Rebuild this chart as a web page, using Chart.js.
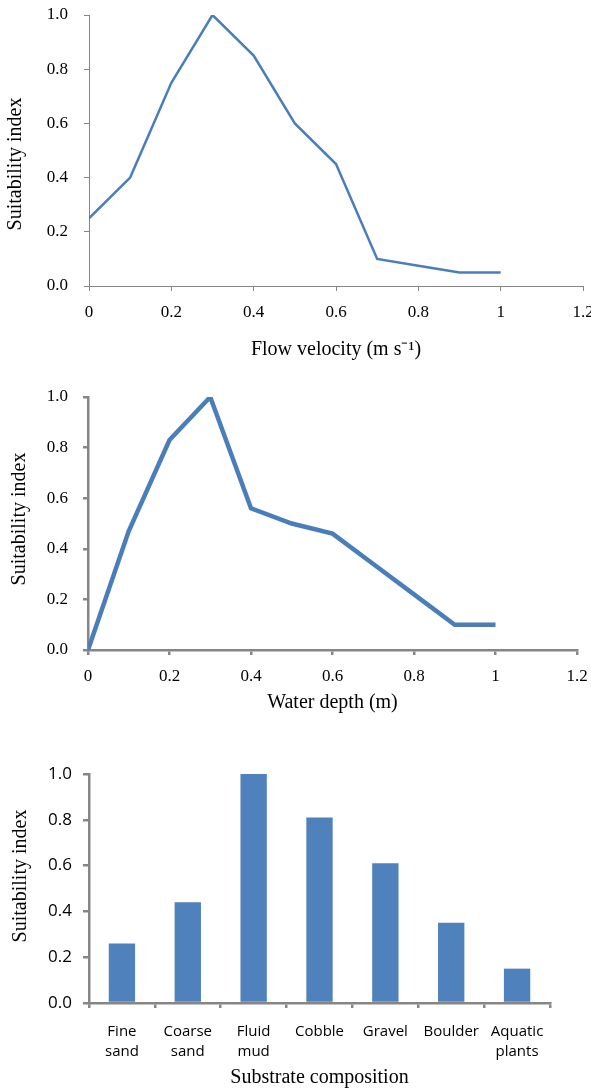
<!DOCTYPE html>
<html><head><meta charset="utf-8">
<script src="https://cdn.jsdelivr.net/npm/chart.js@4.4.1/dist/chart.umd.min.js"></script>
<style>
html,body{margin:0;padding:0;background:#fff;width:591px;height:1090px;overflow:hidden;position:relative}
canvas{position:absolute;left:0}
</style></head><body>
<canvas id="c1" width="591" height="362" style="top:0px"></canvas>
<canvas id="c2" width="591" height="355" style="top:360px"></canvas>
<canvas id="c3" width="591" height="375" style="top:715px"></canvas>
<script>
// ---- data ----
const velocityX = [0, 0.1, 0.2, 0.3, 0.4, 0.5, 0.6, 0.7, 0.8, 0.9, 1.0];
const velocitySI = [0.25, 0.40, 0.75, 1.00, 0.85, 0.60, 0.45, 0.10, 0.075, 0.05, 0.05];
const depthX = [0, 0.1, 0.2, 0.3, 0.4, 0.5, 0.6, 0.7, 0.8, 0.9, 1.0];
const depthSI = [0.00, 0.47, 0.83, 1.00, 0.56, 0.50, 0.46, 0.34, 0.22, 0.10, 0.10];
const substrateLabels = [["Fine", "sand"], ["Coarse", "sand"], ["Fluid", "mud"], "Cobble", "Gravel", "Boulder", ["Aquatic", "plants"]];
const substrateSI = [0.26, 0.44, 1.00, 0.81, 0.61, 0.35, 0.15];
const yTitleText = "Suitability index";
const velocityTitle = "Flow velocity (m s\u207B\u00B9)";
const depthTitle = "Water depth (m)";
const substrateTitle = "Substrate composition";

const SERIF = "'Liberation Serif', 'Times New Roman', serif";
const SANS = "'Open Sans', 'Liberation Sans', sans-serif";
const AXIS = '#868686';
const LINE = '#4a7ebb';
const BAR = '#4f81bd';

const yTitlePlugin = {
  id: 'yTitle',
  afterDraw(chart, args, o) {
    if (!o || !o.text) return;
    const ctx = chart.ctx;
    ctx.save();
    ctx.translate(o.x, o.y);
    ctx.rotate(-Math.PI / 2);
    ctx.font = o.font;
    ctx.fillStyle = '#000';
    ctx.textAlign = 'center';
    ctx.textBaseline = 'middle';
    ctx.fillText(o.text, 0, 0);
    ctx.restore();
  }
};

function fmtX(v) { return String(Number(v.toFixed(1))); }

function lineChart(id, xs, ys, c) {
  return new Chart(document.getElementById(id), {
    type: 'line',
    data: {
      datasets: [{
        data: xs.map((x, i) => ({ x: x, y: ys[i] })),
        borderColor: LINE, borderWidth: c.lw, pointRadius: 0, tension: 0, fill: false
      }]
    },
    plugins: [yTitlePlugin],
    options: {
      responsive: false, animation: false,
      layout: { autoPadding: false, padding: { left: 0, top: c.top, right: c.right, bottom: 0 } },
      plugins: {
        legend: { display: false }, tooltip: { enabled: false },
        yTitle: { text: yTitleText, x: c.tx, y: c.ty, font: '20px ' + SERIF }
      },
      scales: {
        x: {
          type: 'linear', min: 0, max: 1.2,
          ticks: { stepSize: 0.2, callback: fmtX, color: '#000', padding: 11, maxRotation: 0,
                   font: { family: SERIF, size: 17 } },
          grid: { drawOnChartArea: false, drawTicks: true, tickLength: 5, color: AXIS, lineWidth: c.aw },
          border: { display: true, color: AXIS, width: c.aw },
          title: { display: true, text: c.xTitle, color: '#000', padding: { top: 0, bottom: 0 },
                   font: { family: SERIF, size: 20 } },
          afterFit(s) { s.height = c.xh; s.paddingLeft = 0; s.paddingRight = 0; }
        },
        y: {
          min: 0, max: 1,
          ticks: { stepSize: 0.2, callback: v => v.toFixed(1), color: '#000', padding: c.yp,
                   font: { family: SERIF, size: 17 } },
          grid: { drawOnChartArea: false, drawTicks: true, tickLength: 5, color: AXIS, lineWidth: c.aw },
          border: { display: true, color: AXIS, width: c.aw },
          afterFit(s) { s.width = c.yw; s.paddingTop = 0; s.paddingBottom = 0; }
        }
      }
    }
  });
}

lineChart('c1', velocityX, velocitySI, {
  lw: 2.5, aw: 1, top: 15, right: 8, xh: 76, yw: 89, yp: 16,
  xTitle: velocityTitle, tx: 16, ty: 164
});
lineChart('c2', depthX, depthSI, {
  lw: 4.5, aw: 2.5, top: 37, right: 14, xh: 65, yw: 88, yp: 15,
  xTitle: depthTitle, tx: 20, ty: 159
});

new Chart(document.getElementById('c3'), {
  type: 'bar',
  data: {
    labels: substrateLabels,
    datasets: [{ data: substrateSI, backgroundColor: BAR, borderWidth: 0,
                 barPercentage: 0.4, categoryPercentage: 1.0 }]
  },
  plugins: [yTitlePlugin],
  options: {
    responsive: false, animation: false,
    layout: { autoPadding: false, padding: { left: 0, top: 59, right: 41, bottom: 0 } },
    plugins: {
      legend: { display: false }, tooltip: { enabled: false },
      yTitle: { text: yTitleText, x: 20.5, y: 161, font: '20px ' + SERIF }
    },
    scales: {
      x: {
        ticks: { color: '#000', padding: 13, maxRotation: 0, autoSkip: false,
                 font: { family: SANS, size: 15, lineHeight: 1.37 } },
        grid: { offset: true, drawOnChartArea: false, drawTicks: true, tickLength: 5, color: AXIS, lineWidth: 2.5 },
        border: { display: true, color: AXIS, width: 2.5 },
        title: { display: true, text: substrateTitle, color: '#000', padding: { top: 0, bottom: 0 },
                 font: { family: SERIF, size: 20 } },
        afterFit(s) { s.height = 87; s.paddingLeft = 0; s.paddingRight = 0; }
      },
      y: {
        min: 0, max: 1,
        ticks: { stepSize: 0.2, callback: v => v.toFixed(1), color: '#000', padding: 11,
                 font: { family: SANS, size: 17 } },
        grid: { drawOnChartArea: false, drawTicks: true, tickLength: 6, color: AXIS, lineWidth: 2.5 },
        border: { display: true, color: AXIS, width: 2.5 },
        afterFit(s) { s.width = 89; s.paddingTop = 0; s.paddingBottom = 0; }
      }
    }
  }
});
</script>
</body></html>
